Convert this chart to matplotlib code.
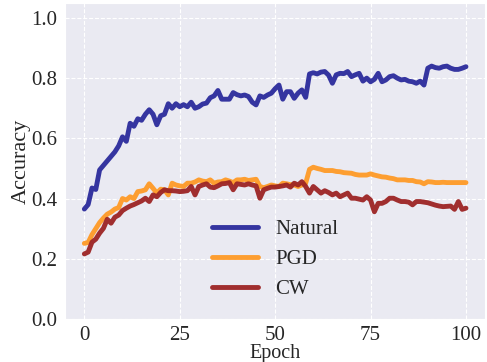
import numpy as np
import matplotlib
matplotlib.use("Agg")
import matplotlib.pyplot as plt
import seaborn as sns

# accuracy per epoch
natural = [0.365, 0.38, 0.435, 0.43, 0.495, 0.51, 0.525, 0.54, 0.555, 0.575,
           0.605, 0.59, 0.65, 0.64, 0.665, 0.66, 0.68, 0.695, 0.68, 0.645,
           0.675, 0.68, 0.715, 0.70, 0.715, 0.705, 0.712, 0.705, 0.72, 0.70,
           0.705, 0.714, 0.717, 0.735, 0.741, 0.759, 0.73, 0.73, 0.73, 0.752,
           0.745, 0.741, 0.744, 0.739, 0.72, 0.711, 0.741, 0.736, 0.744, 0.75,
           0.765, 0.777, 0.73, 0.755, 0.755, 0.733, 0.75, 0.761, 0.736, 0.814,
           0.818, 0.814, 0.82, 0.822, 0.81, 0.783, 0.811, 0.816, 0.815, 0.822,
           0.805, 0.811, 0.816, 0.79, 0.80, 0.788, 0.796, 0.816, 0.788, 0.794,
           0.805, 0.808, 0.80, 0.794, 0.796, 0.79, 0.788, 0.783, 0.79, 0.777,
           0.833, 0.84, 0.835, 0.833, 0.838, 0.84, 0.833, 0.829, 0.829, 0.833,
           0.838]
pgd = [0.251, 0.254, 0.28, 0.30, 0.32, 0.335, 0.348, 0.355, 0.365, 0.37,
       0.40, 0.395, 0.406, 0.40, 0.423, 0.425, 0.429, 0.449, 0.434, 0.418,
       0.431, 0.429, 0.412, 0.451, 0.445, 0.442, 0.440, 0.451, 0.451, 0.455,
       0.462, 0.458, 0.456, 0.462, 0.451, 0.455, 0.456, 0.462, 0.458, 0.453,
       0.462, 0.462, 0.464, 0.460, 0.462, 0.464, 0.44, 0.436, 0.440, 0.445,
       0.442, 0.440, 0.451, 0.449, 0.446, 0.445, 0.440, 0.445, 0.451, 0.497,
       0.504, 0.500, 0.497, 0.493, 0.493, 0.493, 0.490, 0.489, 0.486, 0.485,
       0.484, 0.480, 0.478, 0.478, 0.478, 0.482, 0.478, 0.475, 0.472, 0.471,
       0.468, 0.466, 0.462, 0.462, 0.462, 0.460, 0.460, 0.456, 0.455, 0.449,
       0.456, 0.455, 0.453, 0.453, 0.454, 0.453, 0.453, 0.453, 0.453, 0.453,
       0.453]
cw = [0.216, 0.222, 0.255, 0.265, 0.285, 0.301, 0.331, 0.318, 0.338, 0.345,
      0.36, 0.368, 0.375, 0.38, 0.386, 0.392, 0.401, 0.39, 0.412, 0.406,
      0.42, 0.429, 0.426, 0.426, 0.425, 0.423, 0.424, 0.426, 0.44, 0.412,
      0.44, 0.445, 0.449, 0.438, 0.436, 0.442, 0.449, 0.45, 0.453, 0.429,
      0.449, 0.447, 0.445, 0.449, 0.445, 0.442, 0.401, 0.429, 0.434, 0.438,
      0.438, 0.440, 0.442, 0.445, 0.438, 0.451, 0.445, 0.456, 0.440, 0.418,
      0.440, 0.429, 0.418, 0.426, 0.420, 0.412, 0.418, 0.406, 0.412, 0.418,
      0.401, 0.401, 0.398, 0.395, 0.406, 0.395, 0.356, 0.384, 0.384, 0.390,
      0.401, 0.401, 0.395, 0.390, 0.390, 0.388, 0.379, 0.390, 0.390, 0.388,
      0.386, 0.382, 0.378, 0.375, 0.373, 0.374, 0.375, 0.364, 0.390, 0.364,
      0.368]
epochs = np.arange(len(natural))

sns.set_style("darkgrid", {"grid.linestyle": "--"})
plt.rcParams['font.family'] = ['Liberation Serif', 'DejaVu Serif']

fig = plt.figure(figsize=(4.87, 3.62), dpi=100)
ax = fig.add_axes([0.134, 0.119, 0.862, 0.873])

ax.plot(epochs, natural, color="#2b2b9c", lw=3.5, alpha=0.95, label="Natural")
ax.plot(epochs, pgd, color="#ff9a26", lw=3.5, alpha=0.95, label="PGD")
ax.plot(epochs, cw, color="#9c2424", lw=3.5, alpha=0.95, label="CW")

ax.set_ylim(0, 1.05)
ax.set_yticks([0.0, 0.2, 0.4, 0.6, 0.8, 1.0])
ax.set_xticks([0, 25, 50, 75, 100])
ax.tick_params(labelsize=15, pad=2)
ax.tick_params(axis="x", pad=1.5)
ax.set_xlabel("Epoch", fontsize=14.5, labelpad=-0.5)
ax.set_ylabel("Accuracy", fontsize=16, labelpad=0.5)

ax.legend(loc="lower center", frameon=False, fontsize=15,
          handlelength=2.2, handletextpad=0.8, labelspacing=0.5,
          borderaxespad=0.55)

fig.savefig("out.png", dpi=100)
